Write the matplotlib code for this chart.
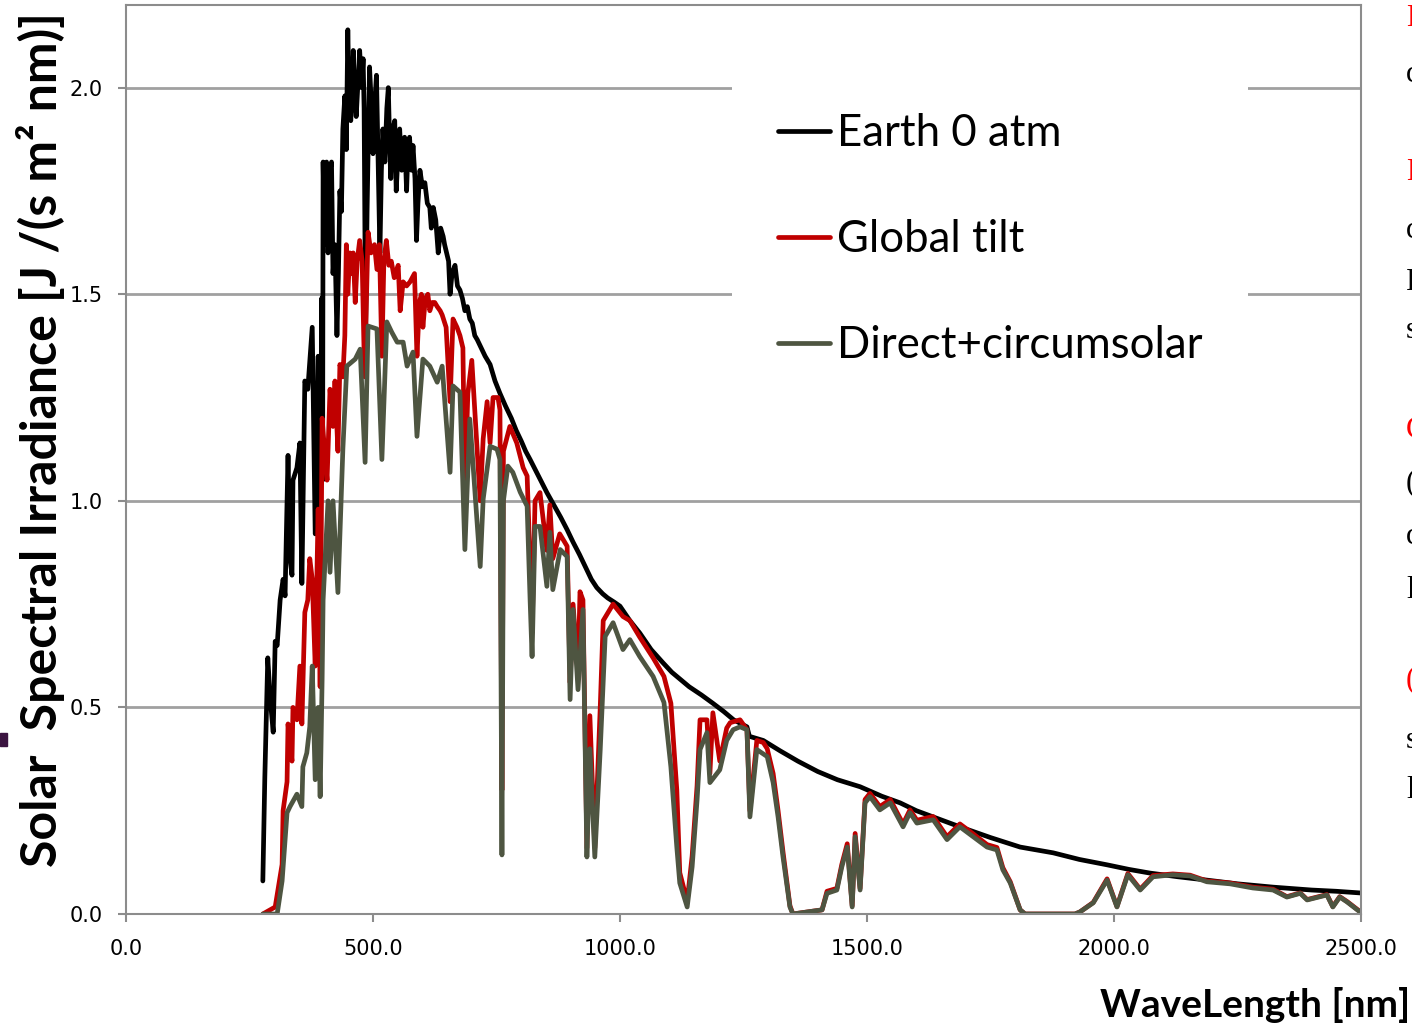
import matplotlib
matplotlib.use("Agg")
import matplotlib.pyplot as plt
from matplotlib.patches import Rectangle

# wavelength [nm] and irradiance
wl_am0 = [277, 281, 287, 292, 298, 302, 306, 312, 318, 322, 328, 332, 336, 338, 346, 352, 356, 362, 368, 377,
          383, 389, 393, 396, 398, 399, 402, 406, 409, 413, 416, 419, 423, 427, 430, 433, 436, 439, 443, 446,
          449, 452, 455, 458, 460, 463, 466, 470, 473, 477, 480, 482, 485, 488, 493, 497, 500, 503, 507, 510,
          514, 517, 520, 524, 528, 531, 534, 536, 540, 544, 547, 551, 554, 558, 564, 568, 571, 574, 578, 581,
          585, 588, 591, 595, 600, 605, 610, 615, 618, 622, 627, 632, 637, 642, 645, 649, 653, 656, 660, 666,
          671, 676, 681, 686, 691, 696, 701, 706, 711, 717, 727, 737, 747, 757, 768, 780, 790, 800, 809, 818,
          835, 852, 866, 880, 893, 905, 918, 930, 942, 953, 965, 975, 988, 1000, 1020, 1040, 1063, 1087, 1105, 1120,
          1140, 1165, 1188, 1210, 1230, 1257, 1262, 1290, 1324, 1360, 1400, 1440, 1486, 1530, 1567, 1600, 1650, 1688, 1750, 1810,
          1877, 1930, 1986, 2030, 2073, 2130, 2188, 2250, 2322, 2400, 2450, 2498]
irr_am0 = [0.08, 0.33, 0.62, 0.52, 0.44, 0.66, 0.65, 0.76, 0.81, 0.77, 1.11, 0.86, 0.82, 1.05, 1.08, 1.14, 0.80, 1.29, 1.27, 1.42,
           0.92, 1.35, 0.77, 1.49, 1.05, 1.82, 1.62, 1.82, 1.60, 1.80, 1.82, 1.55, 1.62, 1.40, 1.55, 1.75, 1.70, 1.90, 1.98, 1.85,
           2.14, 1.95, 1.92, 2.00, 2.09, 1.98, 1.93, 2.02, 2.09, 2.00, 2.07, 1.95, 1.40, 1.70, 2.05, 1.95, 1.84, 1.95, 2.03, 1.85,
           1.60, 1.80, 1.90, 1.82, 1.95, 2.00, 1.85, 1.78, 1.90, 1.92, 1.75, 1.85, 1.90, 1.80, 1.88, 1.75, 1.86, 1.88, 1.80, 1.86,
           1.78, 1.63, 1.72, 1.80, 1.76, 1.77, 1.72, 1.71, 1.66, 1.71, 1.68, 1.60, 1.66, 1.64, 1.62, 1.60, 1.58, 1.50, 1.55, 1.57,
           1.52, 1.51, 1.49, 1.46, 1.47, 1.44, 1.43, 1.40, 1.39, 1.375, 1.35, 1.33, 1.29, 1.26, 1.23, 1.20, 1.17, 1.145, 1.12, 1.10,
           1.06, 1.02, 0.99, 0.96, 0.93, 0.90, 0.87, 0.84, 0.81, 0.79, 0.775, 0.765, 0.755, 0.745, 0.71, 0.68, 0.64, 0.608, 0.585, 0.57,
           0.55, 0.53, 0.51, 0.49, 0.47, 0.453, 0.43, 0.42, 0.395, 0.37, 0.345, 0.325, 0.308, 0.285, 0.269, 0.25, 0.228, 0.211, 0.185, 0.162,
           0.148, 0.132, 0.119, 0.108, 0.099, 0.090, 0.082, 0.073, 0.065, 0.058, 0.055, 0.051]

wl_global = [277, 302, 316, 318, 326, 328, 336, 338, 346, 352, 356, 362, 368, 372, 377, 383, 389, 393, 397, 402,
             407, 413, 419, 423, 429, 433, 439, 443, 446, 449, 453, 457, 460, 464, 468, 473, 478, 483, 486, 490,
             496, 503, 508, 513, 518, 522, 527, 532, 537, 543, 551, 555, 561, 568, 575, 584, 589, 594, 598, 601,
             606, 611, 615, 620, 625, 630, 636, 640, 648, 656, 662, 670, 676, 682, 686, 692, 700, 717, 723, 731,
             737, 743, 753, 757, 761, 764, 777, 791, 804, 812, 818, 822, 828, 838, 852, 858, 864, 878, 893, 899,
             905, 915, 919, 925, 933, 939, 949, 960, 966, 986, 1006, 1020, 1040, 1067, 1089, 1103, 1115, 1121, 1136, 1146,
             1156, 1162, 1176, 1182, 1188, 1202, 1216, 1223, 1243, 1257, 1263, 1277, 1290, 1298, 1310, 1320, 1330, 1344, 1350, 1409,
             1419, 1439, 1449, 1460, 1470, 1476, 1486, 1496, 1506, 1526, 1547, 1573, 1587, 1601, 1634, 1662, 1688, 1715, 1743, 1763,
             1775, 1790, 1810, 1820, 1921, 1931, 1958, 1986, 2006, 2028, 2053, 2079, 2119, 2154, 2188, 2235, 2281, 2322, 2350, 2377,
             2391, 2431, 2443, 2457, 2472, 2498]
irr_global = [0.0, 0.017, 0.12, 0.25, 0.32, 0.46, 0.37, 0.50, 0.47, 0.60, 0.46, 0.73, 0.76, 0.86, 0.81, 0.60, 0.98, 0.55, 1.20, 1.12,
              1.05, 1.27, 1.18, 1.29, 1.12, 1.33, 1.30, 1.40, 1.62, 1.50, 1.60, 1.55, 1.60, 1.48, 1.58, 1.63, 1.58, 1.30, 1.45, 1.65,
              1.60, 1.62, 1.56, 1.62, 1.35, 1.58, 1.63, 1.57, 1.58, 1.54, 1.57, 1.46, 1.53, 1.52, 1.53, 1.55, 1.35, 1.48, 1.50, 1.42,
              1.49, 1.50, 1.46, 1.48, 1.48, 1.47, 1.46, 1.45, 1.42, 1.24, 1.44, 1.42, 1.40, 1.37, 1.02, 1.26, 1.34, 1.00, 1.15, 1.24,
              1.14, 1.25, 1.25, 1.22, 0.30, 1.12, 1.18, 1.14, 1.08, 1.06, 0.85, 0.68, 1.00, 1.02, 0.88, 0.99, 0.86, 0.92, 0.89, 0.56,
              0.75, 0.58, 0.78, 0.76, 0.16, 0.48, 0.16, 0.50, 0.71, 0.75, 0.72, 0.71, 0.67, 0.62, 0.575, 0.51, 0.30, 0.10, 0.03, 0.14,
              0.31, 0.47, 0.47, 0.34, 0.487, 0.37, 0.45, 0.463, 0.47, 0.446, 0.25, 0.42, 0.415, 0.40, 0.34, 0.25, 0.15, 0.02, 0.0, 0.01,
              0.055, 0.062, 0.12, 0.17, 0.02, 0.195, 0.062, 0.277, 0.292, 0.26, 0.277, 0.218, 0.252, 0.227, 0.236, 0.187, 0.218, 0.194, 0.168, 0.161,
              0.112, 0.078, 0.01, 0.0, 0.0, 0.005, 0.028, 0.085, 0.018, 0.098, 0.06, 0.093, 0.097, 0.094, 0.08, 0.075, 0.065, 0.06, 0.042, 0.051,
              0.035, 0.047, 0.018, 0.042, 0.03, 0.006]

wl_direct = [277, 306, 316, 326, 332, 346, 356, 358, 366, 372, 377, 383, 389, 393, 397, 399, 409, 413, 419, 429,
             439, 447, 464, 474, 484, 490, 508, 518, 528, 538, 549, 561, 569, 581, 589, 601, 615, 630, 640, 656,
             662, 676, 686, 696, 717, 723, 737, 751, 757, 761, 764, 773, 783, 798, 812, 818, 822, 828, 838, 852,
             858, 864, 879, 893, 899, 905, 915, 925, 933, 939, 949, 960, 970, 986, 1006, 1020, 1040, 1067, 1089, 1103,
             1115, 1121, 1136, 1146, 1156, 1162, 1176, 1182, 1202, 1216, 1229, 1243, 1257, 1263, 1277, 1298, 1310, 1320, 1330, 1344,
             1350, 1409, 1419, 1439, 1449, 1460, 1470, 1476, 1486, 1496, 1506, 1526, 1547, 1573, 1587, 1601, 1634, 1662, 1688, 1715,
             1743, 1763, 1775, 1790, 1810, 1820, 1921, 1931, 1958, 1986, 2006, 2028, 2053, 2079, 2119, 2154, 2188, 2235, 2281, 2322,
             2350, 2377, 2391, 2431, 2443, 2457, 2472, 2498]
irr_direct = [0.0, 0.0, 0.08, 0.245, 0.26, 0.29, 0.26, 0.356, 0.39, 0.453, 0.60, 0.325, 0.50, 0.284, 0.567, 0.76, 1.00, 0.827, 1.00, 0.778,
              1.125, 1.326, 1.343, 1.367, 1.093, 1.423, 1.416, 1.10, 1.433, 1.408, 1.384, 1.384, 1.326, 1.36, 1.156, 1.343, 1.326, 1.287, 1.326, 1.069,
              1.278, 1.263, 0.882, 1.198, 0.841, 1.004, 1.132, 1.125, 1.10, 0.143, 1.00, 1.084, 1.069, 1.021, 0.987, 0.761, 0.623, 0.938, 0.938, 0.793,
              0.924, 0.785, 0.882, 0.865, 0.519, 0.737, 0.543, 0.737, 0.138, 0.40, 0.138, 0.398, 0.672, 0.705, 0.64, 0.664, 0.623, 0.575, 0.512, 0.356,
              0.162, 0.075, 0.017, 0.114, 0.276, 0.398, 0.439, 0.318, 0.349, 0.42, 0.446, 0.453, 0.446, 0.235, 0.398, 0.381, 0.318, 0.235, 0.138, 0.017,
              0.0, 0.01, 0.05, 0.058, 0.114, 0.162, 0.017, 0.187, 0.058, 0.269, 0.284, 0.252, 0.269, 0.211, 0.245, 0.22, 0.228, 0.18, 0.211, 0.187,
              0.162, 0.155, 0.107, 0.075, 0.01, 0.0, 0.0, 0.005, 0.027, 0.082, 0.017, 0.095, 0.058, 0.09, 0.095, 0.092, 0.078, 0.073, 0.063, 0.058,
              0.041, 0.05, 0.034, 0.046, 0.017, 0.041, 0.029, 0.005]

series_names = ["Earth 0 atm", "Global tilt", "Direct+circumsolar"]
series_colors = ["#000000", "#C00000", "#4E5541"]

x_ticks = [0, 500, 1000, 1500, 2000, 2500]
y_ticks = [0.0, 0.5, 1.0, 1.5, 2.0]

assert len(wl_am0) == len(irr_am0)
assert len(wl_global) == len(irr_global)
assert len(wl_direct) == len(irr_direct)

fig = plt.figure(figsize=(14.12, 10.27), dpi=100)
ax = fig.add_axes([126 / 1412, 113 / 1027, (1361 - 126) / 1412, (914 - 5) / 1027])

lw = 3.4
for (x, y), name, col in zip([(wl_am0, irr_am0), (wl_global, irr_global), (wl_direct, irr_direct)],
                             series_names, series_colors):
    ax.plot(x, y, color=col, lw=lw, label=name, solid_joinstyle="round", solid_capstyle="round")

ax.set_xlim(0, 2500)
ax.set_ylim(0, 2.2)
ax.set_xticks(x_ticks)
ax.set_yticks(y_ticks)
ax.set_xticklabels([f"{v:.1f}" for v in x_ticks])
ax.set_yticklabels([f"{v:.1f}" for v in y_ticks])
ax.yaxis.grid(True, color="#A0A0A0", lw=2)
ax.set_axisbelow(True)
for side in ["left", "bottom", "top", "right"]:
    ax.spines[side].set_color("#8C8C8C")
    ax.spines[side].set_linewidth(1.5)
ax.tick_params(direction="out", length=6, width=1.5, color="#8C8C8C", labelsize=15)
ax.tick_params(axis="x", pad=12)
ax.tick_params(axis="y", pad=11)

leg = ax.legend(loc="upper left", bbox_to_anchor=(732 / 1412, (1027 - 67) / 1027),
                bbox_transform=fig.transFigure, prop={"family": "Lato", "size": 31.5},
                handlelength=1.19, handletextpad=0.16, labelspacing=1.49, borderpad=1.05,
                borderaxespad=0, frameon=True, fancybox=False, edgecolor="none",
                facecolor="white", framealpha=1)

fig.text(41 / 1412, 1 - 440 / 1027, "Solar  Spectral Irradiance [J /(s m² nm)]", rotation=90,
         ha="center", va="center", fontsize=36, fontweight="bold", family="Lato")
fig.text(1410 / 1412, 1 - 1005 / 1027, "WaveLength [nm]", ha="right", va="center",
         fontsize=28, fontweight="bold", family="Lato")

# small mark at the left edge
fig.patches.append(Rectangle((0, 1 - 746 / 1027), 7 / 1412, 13 / 1027, transform=fig.transFigure,
                             color="#3B1440"))

# clipped text of a neighbouring slide column
side_chars = [("M", 18, "#FF0000"), ("c", 75, "black"), ("M", 172, "#FF0000"), ("c", 230, "black"),
              ("I", 283, "black"), ("s", 330, "black"), ("C", 430, "#FF0000"), ("(", 483, "black"),
              ("c", 537, "black"), ("l", 590, "black"), ("(", 680, "#FF0000"), ("s", 740, "black"),
              ("l", 790, "black")]
for ch, ypx, col in side_chars:
    fig.text(1406 / 1412, 1 - ypx / 1027, ch, ha="left", va="center", fontsize=22, color=col,
             family="Liberation Serif")

fig.savefig("out.png", dpi=100)
